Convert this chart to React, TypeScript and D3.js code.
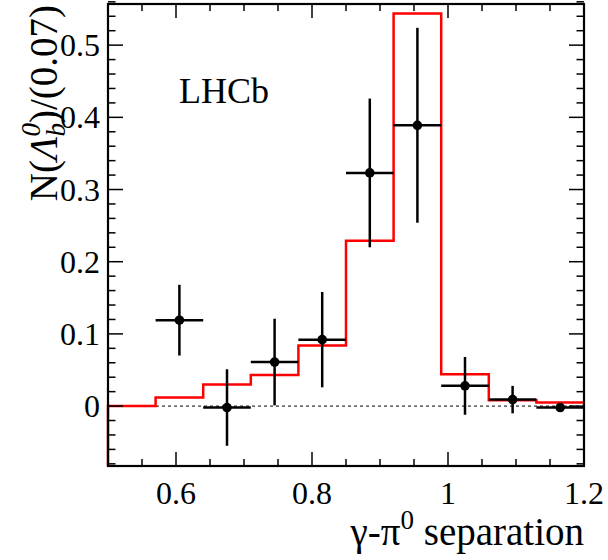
import * as d3 from 'd3';
import React from 'react';

// bin edges of the gamma-pi0 separation histogram (width 0.07)
const binEdges = [0.5, 0.57, 0.64, 0.71, 0.78, 0.85, 0.92, 0.99, 1.06, 1.13, 1.2];
// red histogram (simulation), one value per bin
const simValues = [0.0, 0.012, 0.03, 0.043, 0.084, 0.229, 0.544, 0.044, 0.008, 0.005];
// data points (bins 2..10)
const dataX = [0.605, 0.675, 0.745, 0.815, 0.885, 0.955, 1.025, 1.095, 1.165];
const dataY = [0.119, -0.002, 0.061, 0.092, 0.323, 0.389, 0.028, 0.009, -0.002];
const dataErr = [0.049, 0.053, 0.06, 0.066, 0.103, 0.135, 0.04, 0.019, 0.004];

const xTicks = [0.6, 0.8, 1.0, 1.2];
const xTickLabels = ['0.6', '0.8', '1', '1.2'];
const yTicks = [0, 0.1, 0.2, 0.3, 0.4, 0.5];
const yTickLabels = ['0', '0.1', '0.2', '0.3', '0.4', '0.5'];

const W = 608;
const H = 560;
const left = 108;
const right = 584;
const top = 4;
const bottom = 466;
const font = 'Liberation Serif';

export default function App() {
  const x = d3.scaleLinear().domain([0.5, 1.2]).range([left, right]);
  const y = d3.scaleLinear().domain([-0.083, 0.557]).range([bottom, top]);

  const xMinor = d3.range(0.5, 1.2001, 0.05).filter((v) => !xTicks.some((t) => Math.abs(t - v) < 1e-6));
  const yMinor = d3.range(-0.08, 0.5601, 0.02).filter((v) => !yTicks.some((t) => Math.abs(t - v) < 1e-6));

  const histPts: [number, number][] = [[binEdges[0], y.domain()[0]]];
  simValues.forEach((v, i) => histPts.push([binEdges[i], v]));
  histPts.push([binEdges[binEdges.length - 1], simValues[simValues.length - 1]]);
  const histLine = d3
    .line<[number, number]>()
    .x((d) => x(d[0]))
    .y((d) => y(d[1]))
    .curve(d3.curveStepAfter);

  const halfBin = 0.035;
  const txt = { fontFamily: font };

  return (
    <svg width={W} height={H} style={{ position: 'absolute', left: 0, top: 0, background: '#fff' }}>
      <rect x={0} y={0} width={W} height={H} fill="#fff" />
      {/* zero line */}
      <line x1={left} x2={right} y1={y(0)} y2={y(0)} stroke="#000" strokeWidth={1} strokeDasharray="3,3" />

      {/* simulation histogram */}
      <path d={histLine(histPts) || ''} fill="none" stroke="#ff0000" strokeWidth={2.5} />

      {/* data points */}
      {dataX.map((cx, i) => (
        <g key={i} stroke="#000" strokeWidth={2.5}>
          <line x1={x(cx - halfBin)} x2={x(cx + halfBin)} y1={y(dataY[i])} y2={y(dataY[i])} />
          <line x1={x(cx)} x2={x(cx)} y1={y(dataY[i] - dataErr[i])} y2={y(dataY[i] + dataErr[i])} />
          <circle cx={x(cx)} cy={y(dataY[i])} r={4.8} fill="#000" stroke="none" />
        </g>
      ))}

      {/* ticks */}
      <g stroke="#000" strokeWidth={1.5}>
        {yTicks.map((t) => (
          <g key={'y' + t}>
            <line x1={left} x2={left + 15} y1={y(t)} y2={y(t)} />
            <line x1={right} x2={right - 15} y1={y(t)} y2={y(t)} />
          </g>
        ))}
        {yMinor.map((t) => (
          <g key={'ym' + t}>
            <line x1={left} x2={left + 7.5} y1={y(t)} y2={y(t)} />
            <line x1={right} x2={right - 7.5} y1={y(t)} y2={y(t)} />
          </g>
        ))}
        {xTicks.map((t) => (
          <g key={'x' + t}>
            <line x1={x(t)} x2={x(t)} y1={bottom} y2={bottom - 14} />
            <line x1={x(t)} x2={x(t)} y1={top} y2={top + 14} />
          </g>
        ))}
        {xMinor.map((t) => (
          <g key={'xm' + t}>
            <line x1={x(t)} x2={x(t)} y1={bottom} y2={bottom - 7} />
            <line x1={x(t)} x2={x(t)} y1={top} y2={top + 7} />
          </g>
        ))}
      </g>

      {/* frame */}
      <rect x={left} y={top} width={right - left} height={bottom - top} fill="none" stroke="#000" strokeWidth={2.2} />

      {/* tick labels */}
      <g fontSize={32} fill="#000">
        {yTicks.map((t, i) => (
          <text key={'yl' + t} x={left - 8} y={y(t) + 11} textAnchor="end" style={txt}>
            {yTickLabels[i]}
          </text>
        ))}
        {xTicks.map((t, i) => (
          <text key={'xl' + t} x={x(t)} y={504} textAnchor="middle" style={txt}>
            {xTickLabels[i]}
          </text>
        ))}
      </g>

      {/* axis titles */}
      <text x={right} y={545} textAnchor="end" style={txt} fontSize={39} fill="#000">
        γ-π
        <tspan fontSize={27} dy={-16}>0</tspan>
        <tspan dy={16}> separation</tspan>
      </text>
      <text transform="translate(57,5) rotate(-90)" textAnchor="end" style={txt} fontSize={39} fill="#000">
        N(
        <tspan fontStyle="italic">Λ</tspan>
        <tspan fontSize={27} fontStyle="italic" dy={-17}>0</tspan>
        <tspan fontSize={27} fontStyle="italic" dx={-13.5} dy={25}>b</tspan>
        <tspan dy={-8}>)/(0.07)</tspan>
      </text>

      <text x={179} y={103} style={txt} fontSize={36} fill="#000">
        LHCb
      </text>
    </svg>
  );
}
